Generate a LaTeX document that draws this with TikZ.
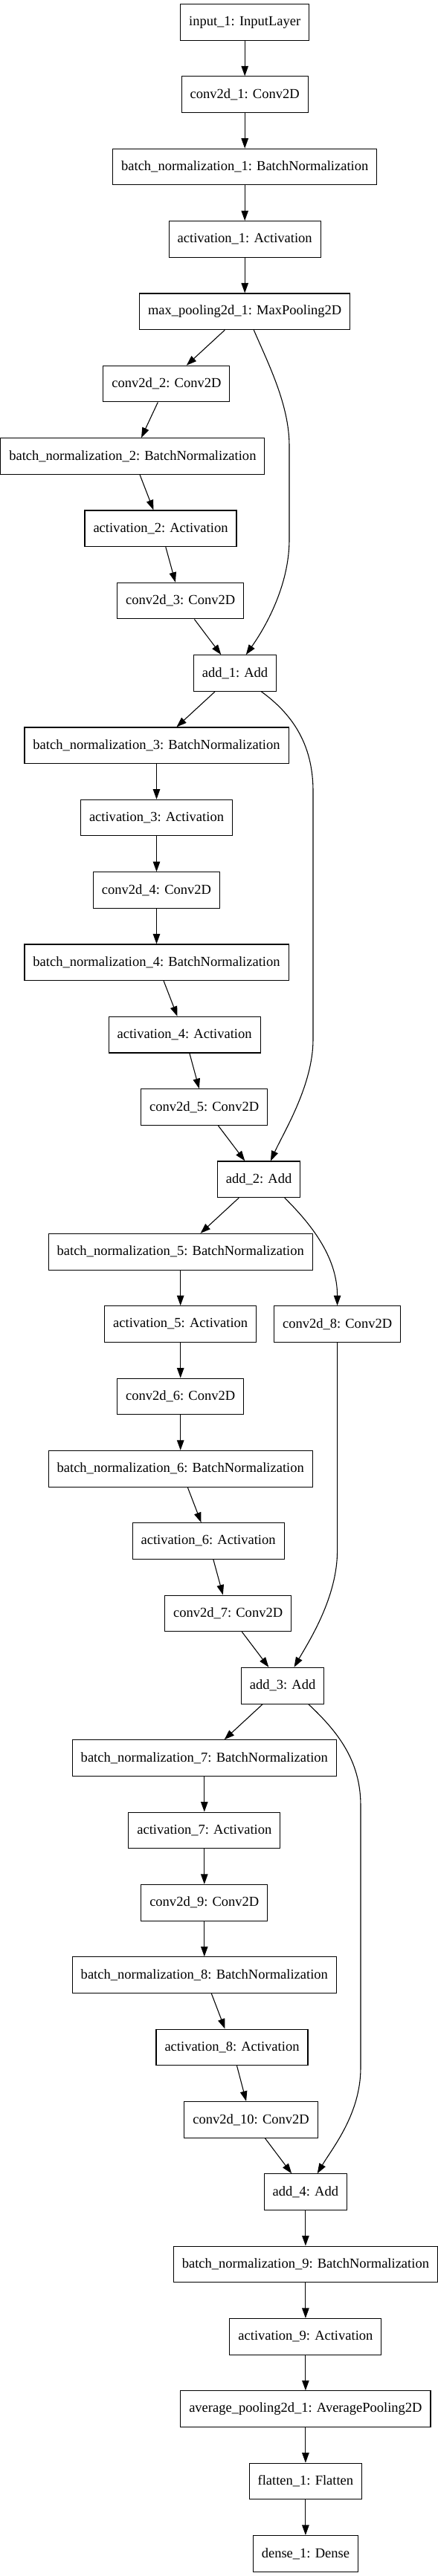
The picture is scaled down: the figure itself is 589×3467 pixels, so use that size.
\documentclass[tikz,border=0pt]{standalone}
\usepackage{fontspec}
\setmainfont{Liberation Serif}
\usetikzlibrary{arrows.meta,calc}

\begin{document}
\begin{tikzpicture}[x=0.74pt, y=-0.74pt, >={Triangle[length=10pt,width=7pt]},
    layer/.style={draw, rectangle, minimum height=36pt, inner xsep=8.5pt, line width=0.8pt, font=\fontsize{13.7}{16.4}\selectfont},
    link/.style={->, line width=0.8pt}]
    \useasboundingbox (0,0) rectangle (589,3467);

    % stem
    \node[layer] (in1) at (329.2,29.9) {input\_1: InputLayer};
    \node[layer] (c1) at (329.2,127.2) {conv2d\_1: Conv2D};
    \node[layer] (bn1) at (329.2,224.6) {batch\_normalization\_1: BatchNormalization};
    \node[layer] (a1) at (329.2,321.9) {activation\_1: Activation};
    \node[layer] (mp) at (329.2,419.3) {max\_pooling2d\_1: MaxPooling2D};
    \draw[link] (in1) -- (c1); \draw[link] (c1) -- (bn1);
    \draw[link] (bn1) -- (a1); \draw[link] (a1) -- (mp);

    % block 1
    \node[layer] (c2) at (223.9,516.6) {conv2d\_2: Conv2D};
    \node[layer] (bn2) at (178.4,613.9) {batch\_normalization\_2: BatchNormalization};
    \node[layer] (a2) at (216.0,711.3) {activation\_2: Activation};
    \node[layer] (c3) at (242.7,808.6) {conv2d\_3: Conv2D};
    \node[layer] (add1) at (316.0,906.0) {add\_1: Add};
    \draw[link] (mp) -- (c2); \draw[link] (c2) -- (bn2);
    \draw[link] (bn2) -- (a2); \draw[link] (a2) -- (c3); \draw[link] (c3) -- (add1);
    \draw[link] ($(mp.south)+(12.1,0)$) .. controls (361,490) and (389,545) .. (389,600)
        -- (389,726) .. controls (389,790) and (355,847) .. ($(add1.north)+(14.8,0)$);

    % block 2
    \node[layer] (bn3) at (210.5,1003.3) {batch\_normalization\_3: BatchNormalization};
    \node[layer] (a3) at (210.5,1100.6) {activation\_3: Activation};
    \node[layer] (c4) at (210.5,1198.0) {conv2d\_4: Conv2D};
    \node[layer] (bn4) at (210.5,1295.3) {batch\_normalization\_4: BatchNormalization};
    \node[layer] (a4) at (248.1,1392.7) {activation\_4: Activation};
    \node[layer] (c5) at (274.6,1490.0) {conv2d\_5: Conv2D};
    \node[layer] (add2) at (348.1,1587.3) {add\_2: Add};
    \draw[link] (add1) -- (bn3); \draw[link] (bn3) -- (a3); \draw[link] (a3) -- (c4);
    \draw[link] (c4) -- (bn4); \draw[link] (bn4) -- (a4); \draw[link] (a4) -- (c5);
    \draw[link] (c5) -- (add2);
    \draw[link] ($(add1.south)+(35.5,0)$) .. controls (391.5,960) and (421,1000) .. (421,1065)
        -- (421,1399) .. controls (421,1460) and (382,1523) .. ($(add2.north)+(15.8,0)$);

    % block 3 (projection)
    \node[layer] (bn5) at (242.7,1684.7) {batch\_normalization\_5: BatchNormalization};
    \node[layer] (a5) at (242.7,1782.0) {activation\_5: Activation};
    \node[layer] (c8) at (453.6,1782.0) {conv2d\_8: Conv2D};
    \node[layer] (c6) at (242.7,1879.4) {conv2d\_6: Conv2D};
    \node[layer] (bn6) at (242.7,1976.7) {batch\_normalization\_6: BatchNormalization};
    \node[layer] (a6) at (280.1,2074.0) {activation\_6: Activation};
    \node[layer] (c7) at (306.6,2171.4) {conv2d\_7: Conv2D};
    \node[layer] (add3) at (380.1,2268.7) {add\_3: Add};
    \draw[link] (add2) -- (bn5); \draw[link] (bn5) -- (a5); \draw[link] (a5) -- (c6);
    \draw[link] (c6) -- (bn6); \draw[link] (bn6) -- (a6); \draw[link] (a6) -- (c7);
    \draw[link] (c7) -- (add3);
    \draw[link] ($(add2.south)+(34.6,0)$) .. controls (422.7,1651.6) and (453.6,1695) .. (c8.north);
    \draw[link] (c8.south) -- (453.6,2087) .. controls (453.6,2150) and (415.5,2209) .. ($(add3.north)+(15.4,0)$);

    % block 4
    \node[layer] (bn7) at (274.8,2366.1) {batch\_normalization\_7: BatchNormalization};
    \node[layer] (a7) at (274.8,2463.4) {activation\_7: Activation};
    \node[layer] (c9) at (274.8,2560.7) {conv2d\_9: Conv2D};
    \node[layer] (bn8) at (274.8,2658.1) {batch\_normalization\_8: BatchNormalization};
    \node[layer] (a8) at (312.0,2755.4) {activation\_8: Activation};
    \node[layer] (c10) at (337.6,2852.8) {conv2d\_10: Conv2D};
    \node[layer] (add4) at (410.9,2950.1) {add\_4: Add};
    \draw[link] (add3) -- (bn7); \draw[link] (bn7) -- (a7); \draw[link] (a7) -- (c9);
    \draw[link] (c9) -- (bn8); \draw[link] (bn8) -- (a8); \draw[link] (a8) -- (c10);
    \draw[link] (c10) -- (add4);
    \draw[link] ($(add3.south)+(34.6,0)$) .. controls (454.7,2331) and (485,2370) .. (485,2430)
        -- (485,2783) .. controls (485,2845) and (447,2891) .. ($(add4.north)+(15.8,0)$);

    % head
    \node[layer] (bn9) at (410.9,3047.4) {batch\_normalization\_9: BatchNormalization};
    \node[layer] (a9) at (410.9,3144.8) {activation\_9: Activation};
    \node[layer] (ap) at (410.9,3242.1) {average\_pooling2d\_1: AveragePooling2D};
    \node[layer] (fl) at (410.9,3339.5) {flatten\_1: Flatten};
    \node[layer] (d1) at (410.9,3436.8) {dense\_1: Dense};
    \draw[link] (add4) -- (bn9); \draw[link] (bn9) -- (a9); \draw[link] (a9) -- (ap);
    \draw[link] (ap) -- (fl); \draw[link] (fl) -- (d1);
\end{tikzpicture}
\end{document}
